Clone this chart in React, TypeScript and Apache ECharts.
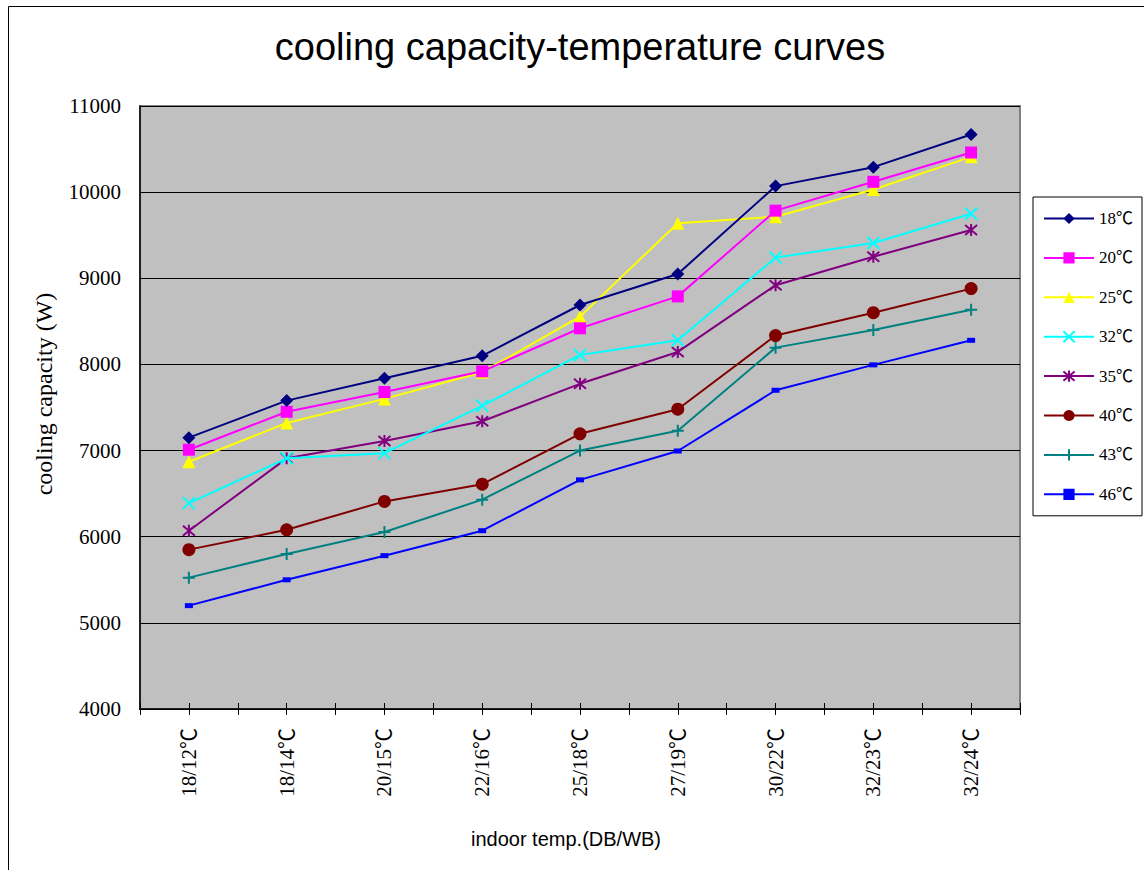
import React, { useEffect, useRef } from "react";
import * as echarts from "echarts";

const categories = ["18/12℃", "18/14℃", "20/15℃", "22/16℃", "25/18℃", "27/19℃", "30/22℃", "32/23℃", "32/24℃"];
const seriesNames = ["18℃", "20℃", "25℃", "32℃", "35℃", "40℃", "43℃", "46℃"];
const s18 = [7150, 7580, 7840, 8100, 8690, 9050, 10070, 10290, 10670];
const s20 = [7010, 7450, 7680, 7920, 8420, 8790, 9785, 10120, 10460];
const s25 = [6870, 7320, 7600, 7910, 8555, 9640, 9715, 10030, 10410];
const s32 = [6390, 6910, 6970, 7520, 8110, 8280, 9240, 9410, 9750];
const s35 = [6070, 6910, 7110, 7340, 7775, 8145, 8920, 9250, 9560];
const s40 = [5850, 6080, 6410, 6610, 7195, 7480, 8335, 8600, 8880];
const s43 = [5525, 5800, 6055, 6430, 7000, 7230, 8195, 8400, 8635];
const s46 = [5200, 5500, 5780, 6070, 6660, 6995, 7700, 7995, 8280];
const yTicks = { min: 4000, max: 11000, interval: 1000 };

const colors = ["#000080", "#FF00FF", "#FFFF00", "#00FFFF", "#800080", "#800000", "#008080", "#0000FF"];

const SERIF = "'Liberation Serif', 'Noto Sans CJK SC', serif";
const SANS = "'Liberation Sans', Arial, sans-serif";

export default function App() {
  const ref = useRef<HTMLDivElement>(null);
  useEffect(() => {
    if (!ref.current) return;
    const chart = echarts.init(ref.current, undefined, { renderer: "svg" });
    const dataSets = [s18, s20, s25, s32, s35, s40, s43, s46];
    const symbols: any[] = [
      { symbol: "diamond", size: 13, border: 0 },
      { symbol: "rect", size: 12, border: 0 },
      { symbol: "triangle", size: 13, border: 0 },
      { symbol: "path://M0,0 L10,10 M10,0 L0,10", size: 12, border: 2 },
      { symbol: "path://M0,0 L10,10 M10,0 L0,10 M5,-1 L5,11", size: 12, border: 2 },
      { symbol: "circle", size: 13, border: 0 },
      { symbol: "path://M5,0 L5,10 M0,5 L10,5", size: 12, border: 2 },
      { symbol: "rect", size: [8, 5], border: 0 },
    ];
    const series = dataSets.map((d, i) => ({
      name: seriesNames[i],
      type: "line",
      data: d,
      xAxisIndex: 0,
      yAxisIndex: 0,
      symbol: symbols[i].symbol,
      symbolSize: symbols[i].size,
      showAllSymbol: true,
      lineStyle: { color: colors[i], width: 2 },
      itemStyle: {
        color: colors[i],
        borderColor: colors[i],
        borderWidth: symbols[i].border,
      },
      z: 10 - i,
    }));

    chart.setOption({
      animation: false,
      backgroundColor: "#ffffff",
      grid: {
        left: 140,
        top: 106,
        width: 880,
        height: 603,
        show: true,
        backgroundColor: "#C0C0C0",
        borderColor: "#808080",
        borderWidth: 2,
        containLabel: false,
      },
      legend: {
        orient: "vertical",
        left: 1033,
        top: 197,
        padding: [13, 9, 13, 10],
        itemGap: 22.4,
        itemWidth: 50,
        itemHeight: 14,
        backgroundColor: "#ffffff",
        borderColor: "#000000",
        borderWidth: 1,
        borderRadius: 0,
        textStyle: { fontFamily: SERIF, fontSize: 17, color: "#000" },
        data: seriesNames,
      },
      xAxis: [
        {
          type: "category",
          data: categories,
          boundaryGap: true,
          axisLine: { show: true, lineStyle: { color: "#000", width: 1.5 } },
          axisTick: { show: false },
          splitLine: { show: false },
          axisLabel: {
            rotate: 90,
            margin: 19,
            interval: 0,
            fontFamily: SERIF,
            fontSize: 21,
            color: "#000",
          },
        },
        {
          type: "value",
          min: 0,
          max: 9,
          interval: 0.5,
          position: "bottom",
          axisLine: { show: false },
          axisLabel: { show: false },
          splitLine: { show: false },
          axisTick: { show: true, inside: true, length: 6, lineStyle: { color: "#000", width: 1 } },
        },
        {
          type: "value",
          min: 0,
          max: 9,
          interval: 0.5,
          position: "bottom",
          axisLine: { show: false },
          axisLabel: { show: false },
          splitLine: { show: false },
          axisTick: { show: true, inside: false, length: 6, lineStyle: { color: "#000", width: 1 } },
        },
      ],
      yAxis: {
        type: "value",
        min: yTicks.min,
        max: yTicks.max,
        interval: yTicks.interval,
        axisLine: { show: true, lineStyle: { color: "#000", width: 1.5 } },
        axisTick: { show: true, inside: true, length: 7, lineStyle: { color: "#000" } },
        splitLine: { show: true, lineStyle: { color: "#000", width: 1 } },
        axisLabel: {
          margin: 19,
          fontFamily: SERIF,
          fontSize: 21,
          color: "#000",
          formatter: (v: number) => String(v),
        },
      },
      graphic: [
        {
          type: "rect",
          shape: { x: 8.5, y: 6.5, width: 1300, height: 1000 },
          style: { fill: "none", stroke: "#000", lineWidth: 1 },
          silent: true,
          z: -10,
        },
        {
          type: "text",
          x: 580,
          y: 47,
          style: {
            text: "cooling capacity-temperature curves",
            fontFamily: SANS,
            fontSize: 38,
            fill: "#000",
            textAlign: "center",
            textVerticalAlign: "middle",
          },
        },
        {
          type: "text",
          x: 566,
          y: 839,
          style: {
            text: "indoor temp.(DB/WB)",
            fontFamily: SANS,
            fontSize: 20,
            fill: "#000",
            textAlign: "center",
            textVerticalAlign: "middle",
          },
        },
        {
          type: "text",
          x: 44,
          y: 394,
          rotation: Math.PI / 2,
          style: {
            text: "cooling capacity (W)",
            fontFamily: SERIF,
            fontSize: 24,
            fill: "#000",
            textAlign: "center",
            textVerticalAlign: "middle",
          },
        },
      ],
      series,
    });
    return () => chart.dispose();
  }, []);
  return (
    <div
      ref={ref}
      style={{ position: "absolute", left: 0, top: 0, width: 1144, height: 870 }}
    />
  );
}
